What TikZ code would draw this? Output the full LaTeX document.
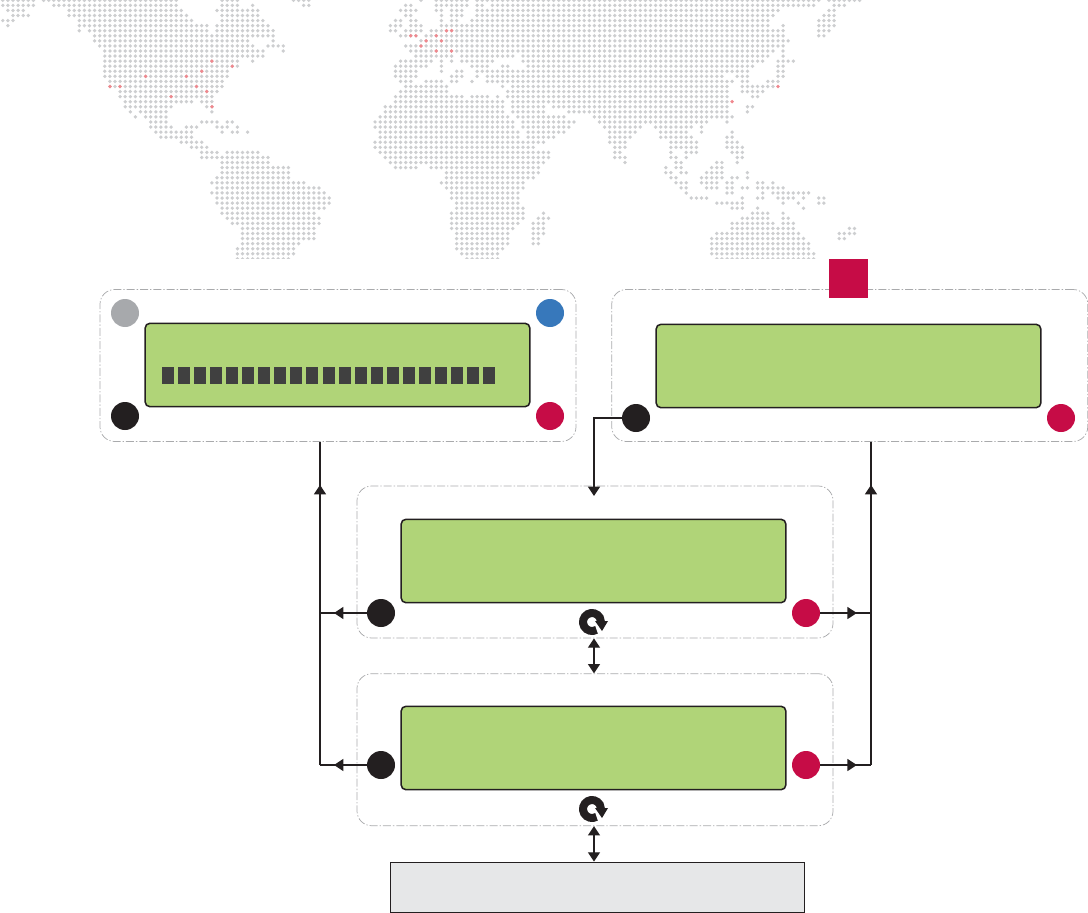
\documentclass[tikz,border=0pt]{standalone}
\usepackage{xcolor}
\definecolor{inkBlack}{HTML}{231F20}
\definecolor{crimson}{HTML}{C60C46}
\definecolor{ledBlue}{HTML}{3778BB}
\definecolor{ledGrey}{HTML}{A7A9AC}
\definecolor{lcdGreen}{HTML}{B0D478}
\definecolor{cellGrey}{HTML}{404040}
\definecolor{panelGrey}{HTML}{A9AAAC}
\definecolor{memGrey}{HTML}{E6E7E8}
\definecolor{mapGrey}{HTML}{CDCED0}
\definecolor{mapRed}{HTML}{F0888E}
\usepackage{tikz}
\usetikzlibrary{arrows.meta,positioning,decorations.markings}

\newcommand{\maprows}{
0/{0/6,8/34,43/46,57/60,82/82,85/91,93/160,162/168},
1/{0/6,10/34,43/46,49/49,59/60,79/80,85/91,93/94,96/159,163/165},
2/{1/4,13/35,42/50,78/81,85/86,88/90,93/152,162/163},
3/{2/5,13/36,43/50,79/80,86/86,88/90,93/151,161/163},
4/{0/2,15/37,43/51,77/78,80/81,86/86,88/89,92/150,160/163},
5/{1/1,15/40,42/52,76/78,80/82,86/150,153/153,160/163},
6/{15/15,17/40,42/53,76/77,79/82,84/153,160/162},
7/{18/53,78/81,83/153,160/161},
8/{18/48,53/53,82/154},
9/{19/49,52/55,79/153},
10/{20/51,55/55,80/151,153/153},
11/{20/51,81/88,90/100,102/150,153/153},
12/{20/46,49/49,78/84,86/86,88/88,90/96,102/149,152/155},
13/{20/46,77/83,86/86,92/95,98/99,103/147,152/153},
14/{20/44,77/81,86/86,89/90,93/146,152/153},
15/{20/44,77/81,88/90,93/93,95/141,144/146,152/153},
16/{21/43,78/80,83/86,88/89,92/92,95/143,145/146,150/152},
17/{21/43,79/87,98/98,100/142,145/151},
18/{23/42,78/87,99/142,145/149},
19/{23/41,77/90,92/95,97/97,99/142,147/148},
20/{24/37,39/41,77/98,100/142},
21/{24/33,40/41,75/98,100/106,108/142,146/147},
22/{25/25,27/32,41/41,75/98,100/106,111/142,146/146},
23/{26/26,28/32,74/99,101/110,116/143},
24/{29/32,39/42,44/45,73/100,102/112,117/138,142/142},
25/{29/33,36/38,42/44,46/46,73/100,102/111,118/125,128/135,137/137},
26/{30/37,43/43,45/46,48/48,74/101,103/110,119/124,129/134,137/137,143/143},
27/{31/37,74/101,103/108,119/123,129/135,142/143},
28/{35/39,73/106,119/122,131/136,142/144},
29/{37/40,73/104,120/122,131/136,142/145},
30/{39/42,44/50,74/107,120/121,131/131,134/136,143/145},
31/{39/42,43/52,75/107,120/122,131/132,134/134,144/145},
32/{43/52,76/106,122/122,132/133,140/141,144/144},
33/{43/56,77/81,84/105,130/130,132/133,139/141},
34/{43/56,87/105,130/131,133/134,138/141,146/146},
35/{42/56,87/104,131/132,137/141,143/144,146/146},
36/{41/59,86/102,132/134,137/140,142/143,148/149,151/151},
37/{42/62,87/102,133/134,138/140,142/143,145/146,148/153},
38/{41/63,88/101,134/134,142/143,149/149,151/158},
39/{42/64,88/101,135/138,145/145,148/149,152/155,157/157,160/161},
40/{42/64,89/101,140/145,153/153,156/156,160/161},
41/{43/63,89/102,143/145,148/148,157/157},
42/{43/61,88/102,106/106,147/150,153/153},
43/{44/62,88/102,105/107,145/150,153/154},
44/{45/62,88/101,104/106,143/151,153/155},
45/{47/61,88/100,104/106,143/155,166/167},
46/{47/61,89/99,104/106,140/156,164/167},
47/{47/61,89/99,104/105,139/157,164/165},
48/{47/58,89/99,104/105,139/158},
49/{46/57,89/98,139/158},
50/{46/57,90/97,139/159},
51/{46/56,91/97,140/159}}

\begin{document}
\begin{tikzpicture}[
  x=0.75pt,y=-0.75pt,
  panel/.style={draw=panelGrey,line width=0.55pt,dash pattern=on 6pt off 1.5pt on 1pt off 1.5pt,rounded corners=11pt,minimum width=357pt,minimum height=114pt,inner sep=0pt},
  lcd/.style={draw=inkBlack,line width=1.15pt,fill=lcdGreen,rounded corners=3.5pt,minimum width=288.5pt,minimum height=62.5pt,inner sep=0pt},
  led/.style={circle,minimum size=21pt,inner sep=0pt},
  mem/.style={draw=inkBlack,line width=0.6pt,fill=memGrey,minimum width=311pt,minimum height=37.5pt,inner sep=0pt},
  wire/.style={line width=1pt,draw=inkBlack},
  arr/.style={wire,-{Triangle[length=7pt,width=9pt]}},
  twoway/.style={wire,{Triangle[length=7pt,width=9pt]}-{Triangle[length=7pt,width=9pt]}},
  headat/.style={postaction={decorate},decoration={markings,mark=at position #1 with {\arrow{Triangle[length=7pt,width=9pt]}}}},
  refresh/.pic={
    \draw[inkBlack,line width=6pt] (60:9) arc (60:360:9);
    \fill[inkBlack] (3,-1) -- (16,-1) -- (10,9) -- cycle;
  }
]
\useasboundingbox (0,0) rectangle (1088,913);

% dotted world map
\begin{scope}
\clip (0,0) rectangle (1088,258.5);
\foreach \r/\runs in \maprows {
  \foreach \a/\b in \runs {
    \fill[mapGrey] \foreach \c in {\a,...,\b} { ({2.8+5.1*\c},{0.3+5.07*\r}) circle (1.4pt) };
  }
}
\foreach \c/\r in {41/12,45/13,39/14,28/15,36/15,21/17,23/17,38/17,40/18,33/19,41/21,87/6,88/6,80/7,81/7,85/7,83/8,86/8,82/9,85/10,88/10,152/17,143/20} {
  \fill[mapRed] ({2.8+5.1*\c},{0.3+5.07*\r}) circle (1.4pt);
}
\end{scope}

% panels
\node[panel] (frameA) at (338,365.5) {};
\node[panel,right=26.25pt of frameA] (frameB) {};
\node[panel] (frameC) at (595,562) {};
\node[panel,below=26.25pt of frameC] (frameD) {};
\node[mem] (memory) at (597.5,887) {};
\node[fill=crimson,minimum size=29.25pt,inner sep=0pt] (flag) at (848.5,278.5) {};

\node[lcd] (lcdA) at (337.5,365) {};
\node[lcd] (lcdB) at (848.5,366) {};
\node[lcd] (lcdC) at (593.5,561) {};
\node[lcd] (lcdD) at (593.5,748) {};

\foreach \i in {0,...,20} \fill[cellGrey] ({162+16.05*\i},367) rectangle +(12,17);

\node[led,fill=ledGrey] (greyA) at (125,313) {};
\node[led,fill=ledBlue] (blueA) at (550,313) {};
\node[led,fill=inkBlack] (blackA) at (125,416) {};
\node[led,fill=crimson] (redA) at (550,416) {};
\node[led,fill=inkBlack] (blackB) at (636,418) {};
\node[led,fill=crimson] (redB) at (1061,418) {};
\node[led,fill=inkBlack] (blackC) at (381,613) {};
\node[led,fill=crimson] (redC) at (806,613) {};
\node[led,fill=inkBlack] (blackD) at (381,765) {};
\node[led,fill=crimson] (redD) at (806,765) {};

\pic at (592,622) {refresh};
\pic at (592,809) {refresh};

\coordinate (busL) at (320,442);
\coordinate (busR) at (871,442);
\coordinate (entryC) at (594,496);

\draw[wire,headat=0.7] (blackC.west) -- (blackC.west -| busL);
\draw[wire,headat=0.7] (blackD.west) -- (blackD.west -| busL);
\draw[wire,headat=0.867] (blackD.west -| busL) -- (busL);
\draw[wire,headat=0.72] (redC.east) -- (redC.east -| busR);
\draw[wire,headat=0.72] (redD.east) -- (redD.east -| busR);
\draw[wire,headat=0.867] (redD.east -| busR) -- (busR);
\draw[arr] (blackB.west) -| (entryC);
\draw[twoway] (frameC.south -| entryC) -- (frameD.north -| entryC);
\draw[twoway] (frameD.south -| entryC) -- (memory.north -| entryC);
\end{tikzpicture}
\end{document}
